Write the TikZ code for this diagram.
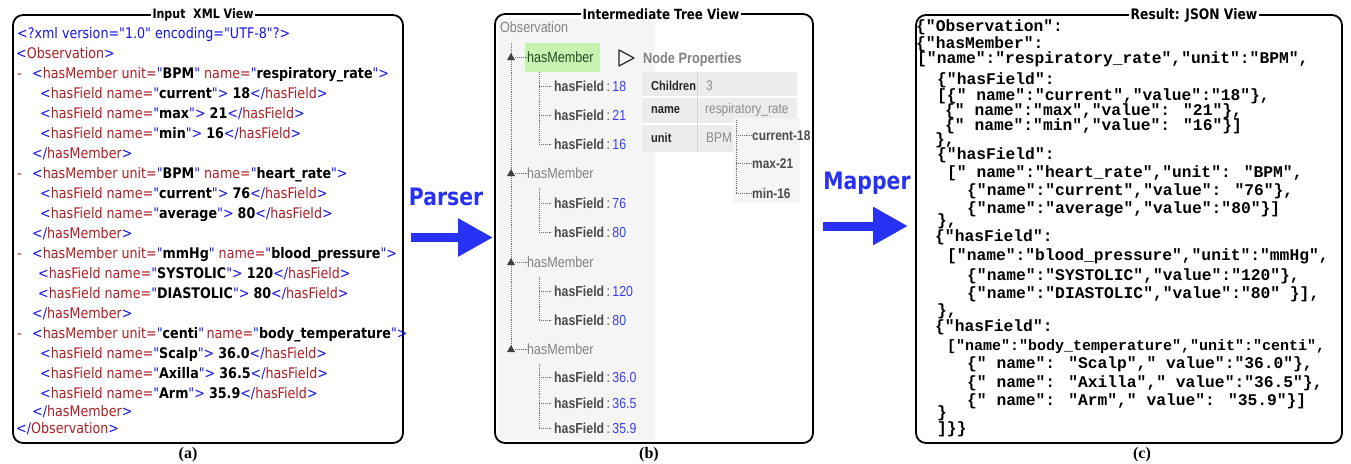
\documentclass[tikz,border=0pt]{standalone}
\usepackage{fontspec}
\usetikzlibrary{arrows.meta}
\newfontfamily\xmlfont[FakeStretch=0.87]{DejaVu Sans}
\newfontfamily\treefont[FakeStretch=0.85]{Liberation Sans}
\newfontfamily\jsonfont{Liberation Mono}
\newfontfamily\titlefont[FakeStretch=0.85]{DejaVu Sans}
\newfontfamily\capfont{Liberation Serif}

\definecolor{xmlblue}{RGB}{20,20,235}
\definecolor{xmlred}{RGB}{175,30,35}
\definecolor{arrowblue}{RGB}{40,50,245}
\definecolor{obsgray}{RGB}{130,130,130}
\definecolor{fieldgray}{RGB}{75,75,75}
\definecolor{valblue}{RGB}{60,60,250}
\definecolor{selgreen}{RGB}{200,242,175}
\definecolor{seltext}{RGB}{40,70,40}
\definecolor{panelbg}{RGB}{245,245,245}
\definecolor{propbg}{RGB}{236,236,236}
\definecolor{dotgray}{RGB}{110,110,110}

% XML syntax colouring
\newcommand\xb[1]{\textcolor{xmlblue}{#1}}
\newcommand\xr[1]{\textcolor{xmlred}{#1}}
\newcommand\xv[1]{\textbf{#1}}
\newcommand\memline[2]{\xb{<}\xr{hasMember unit=}\xb{"}\xv{#1}\xb{"} \xr{name=}\xb{"}\xv{#2}\xb{">}}
\newcommand\fldline[2]{\xb{<}\xr{hasField name=}\xb{"}\xv{#1}\xb{">} \xv{#2}\xb{</}\xr{hasField}\xb{>}}
\newcommand\memend{\xb{</}\xr{hasMember}\xb{>}}
% tree view field label
\newcommand\fld[1]{\textcolor{fieldgray}{\textbf{hasField}\,:\,}\textcolor{valblue}{#1}}

\begin{document}
\begin{tikzpicture}[x=1pt,y=-1pt,
  panel/.style={draw=black, line width=1.8pt, rounded corners=10pt},
  paneltitle/.style={fill=white, inner sep=2pt, font=\titlefont\bfseries\fontsize{13}{15}\selectfont},
  captxt/.style={inner sep=0pt, font=\capfont\bfseries\fontsize{16}{18}\selectfont},
  xml/.style={anchor=base west, inner sep=0pt, font=\xmlfont\fontsize{14.6}{17}\selectfont},
  json/.style={anchor=base west, inner sep=0pt, font=\jsonfont\bfseries\fontsize{16.3}{18}\selectfont},
  tree/.style={anchor=base west, inner sep=0pt, font=\treefont\fontsize{14.8}{16}\selectfont},
  fieldtxt/.style={tree, font=\treefont\fontsize{14.5}{16}\selectfont},
  proptxt/.style={anchor=base west, inner sep=0pt, font=\treefont\fontsize{14}{16}\selectfont},
  propkey/.style={proptxt, text=black!85, font=\treefont\bfseries\fontsize{13}{15}\selectfont},
  subtxt/.style={proptxt, text=fieldgray, font=\treefont\bfseries\fontsize{14}{16}\selectfont},
  treeline/.style={draw=dotgray, densely dotted, line width=0.9pt},
  bigarrow/.style={arrowblue, line width=9pt, -{Triangle[length=35pt,width=36pt]}},
  steplabel/.style={inner sep=0pt, text=arrowblue, font=\titlefont\bfseries\fontsize{24}{26}\selectfont}
]
\useasboundingbox[fill=white] (0,0) rectangle (1351,463);

% ---------------- (a) XML input ----------------
\draw[panel] (13,15) rectangle (403,443);
\node[paneltitle] (ta) at (203,15) {Input~ XML View};
\node[captxt] (ca) at (188,455) {(a)};

\node[xml] (x0) at (17,38) {\xb{<?xml version="1.0" encoding="UTF-8"?>}};
\node[xml] (x1) at (16,58) {\xb{<}\xr{Observation}\xb{>}};
\node[xml] (d1) at (17,78) {\xr{-}};
\node[xml] (x2) at (32,78) {\memline{BPM}{respiratory\_rate}};
\node[xml] (x3) at (40,98) {\fldline{current}{18}};
\node[xml] (x4) at (40,118) {\fldline{max}{21}};
\node[xml] (x5) at (40,138) {\fldline{min}{16}};
\node[xml] (x6) at (32,158) {\memend};
\node[xml] (d2) at (17,178) {\xr{-}};
\node[xml] (x7) at (32,178) {\memline{BPM}{heart\_rate}};
\node[xml] (x8) at (40,198) {\fldline{current}{76}};
\node[xml] (x9) at (40,218) {\fldline{average}{80}};
\node[xml] (x10) at (32,238) {\memend};
\node[xml] (d3) at (17,258) {\xr{-}};
\node[xml] (x11) at (32,258) {\memline{mmHg}{blood\_pressure}};
\node[xml] (x12) at (38,278) {\fldline{SYSTOLIC}{120}};
\node[xml] (x13) at (38,298) {\fldline{DIASTOLIC}{80}};
\node[xml] (x14) at (32,318) {\memend};
\node[xml] (d4) at (17,338) {\xr{-}};
\node[xml] (x15) at (32,338) {\xb{<}\xr{hasMember unit=}\xb{"}\xv{centi}\xb{"}\,\xr{name=}\xb{"}\xv{body\_temperature}\xb{">}};
\node[xml] (x16) at (40,358) {\fldline{Scalp}{36.0}};
\node[xml] (x17) at (40,378) {\fldline{Axilla}{36.5}};
\node[xml] (x18) at (40,398) {\fldline{Arm}{35.9}};
\node[xml] (x19) at (32,416) {\memend};
\node[xml] (x20) at (16,433) {\xb{</}\xr{Observation}\xb{>}};

% ---------------- Parser arrow ----------------
\node[steplabel] (parser) at (446,197) {Parser};
\coordinate (ps) at (411,237.5);
\coordinate (pe) at (493,237.5);
\draw[bigarrow] (ps) -- (pe);

% ---------------- (b) tree view ----------------
\fill[panelbg] (499,19) rectangle (655,440);
\draw[panel] (495,14) rectangle (813,443);
\node[paneltitle, font=\titlefont\bfseries\fontsize{14}{16}\selectfont] (tb) at (661,14) {Intermediate Tree View};
\node[captxt] (cb) at (649,455) {(b)};

\node[tree, text=obsgray] (obs) at (500,32) {Observation};
\coordinate (spine) at (511,43);
\coordinate (spineend) at (511,350);
\draw[treeline] (spine) -- (spineend);

% members
\fill[selgreen] (525,43) rectangle (600,72);
\node[tree, text=seltext] (m1) at (527,62) {hasMember};
\node[tree, text=obsgray] (m2) at (527,178) {hasMember};
\node[tree, text=obsgray] (m3) at (527,267) {hasMember};
\node[tree, text=obsgray] (m4) at (527,354) {hasMember};
\foreach \m/\yy in {m1/57,m2/173,m3/262,m4/349}{
  \fill[black!75] (507,\yy+3) -- (515,\yy+3) -- (511,\yy-4) -- cycle;
  \draw[treeline] (515,\yy) -- (\m.west |- 0,\yy);
}

% fields
\node[fieldtxt] (f11) at (554,91) {\fld{18}};
\node[fieldtxt] (f12) at (554,120) {\fld{21}};
\node[fieldtxt] (f13) at (554,149) {\fld{16}};
\node[fieldtxt] (f21) at (554,208) {\fld{76}};
\node[fieldtxt] (f22) at (554,237) {\fld{80}};
\node[fieldtxt] (f31) at (554,296) {\fld{120}};
\node[fieldtxt] (f32) at (554,325) {\fld{80}};
\node[fieldtxt] (f41) at (554,382) {\fld{36.0}};
\node[fieldtxt] (f42) at (554,408) {\fld{36.5}};
\node[fieldtxt] (f43) at (554,433) {\fld{35.9}};
\foreach \top/\bot in {72/144,188/232,277/320,364/428}{
  \draw[treeline] (539,\top) -- (539,\bot);
}
\foreach \yy in {86,115,144,203,232,291,320,377,403,428}{
  \draw[treeline] (539,\yy) -- (552,\yy);
}

% node properties
\draw[line width=1.2pt, black!85, line join=round] (619,50) -- (634,58) -- (619,66) -- cycle;
\node[tree, text=obsgray, font=\treefont\bfseries\fontsize{15}{17}\selectfont] (np) at (643,63) {Node Properties};
\fill[propbg] (642,72) rectangle (797,152);
\draw[white, line width=1.5pt] (642,97) -- (797,97);
\draw[white, line width=1.5pt] (642,124) -- (797,124);
\draw[black!18, line width=0.8pt] (697,72) -- (697,152);
\node[propkey] (pk1) at (651,90) {Children};
\node[propkey] (pk2) at (651,113) {name};
\node[propkey] (pk3) at (651,142) {unit};
\node[proptxt, text=black!45] (pv1) at (706,90) {3};
\node[proptxt, text=black!45] (pv2) at (705,113) {respiratory\_rate};
\node[proptxt, text=black!45] (pv3) at (706,142) {BPM};

% sub-tree of the selected member
\fill[panelbg] (733,118) rectangle (800,203);
\coordinate (sub) at (736,120);
\coordinate (subend) at (736,193);
\draw[treeline] (sub) -- (subend);
\node[subtxt] (s1) at (752,140) {current-18};
\node[subtxt] (s2) at (752,168) {max-21};
\node[subtxt] (s3) at (752,198) {min-16};
\foreach \s/\yy in {s1/135,s2/163,s3/193}{
  \draw[treeline] (736,\yy) -- (\s.west |- 0,\yy);
}

% ---------------- Mapper arrow ----------------
\node[steplabel] (mapper) at (867,183) {Mapper};
\coordinate (ms) at (823,226);
\coordinate (me) at (908,226);
\draw[bigarrow] (ms) -- (me);

% ---------------- (c) JSON result ----------------
\draw[panel] (916,15) rectangle (1342,443);
\node[paneltitle, font=\titlefont\bfseries\fontsize{14.5}{16}\selectfont] (tc) at (1194,15) {Result: JSON View};
\node[captxt] (cc) at (1142,455) {(c)};

\node[json] (j0) at (916,31) {\{"Observation":};
\node[json] (j1) at (916,48) {\{"hasMember":};
\node[json] (j2) at (917,63) {["name":"respiratory\_rate","unit":"BPM",};
\node[json] (j3) at (937,84) {\{"hasField":};
\node[json] (j4) at (937,100) {[\{" name":"current","value":"18"\},};
\node[json] (j5) at (945,115) {\{" name":"max","value": "21"\},};
\node[json] (j6) at (945,130) {\{" name":"min","value": "16"\}]};
\node[json] (j7) at (935,144) {\},};
\node[json] (j8) at (937,159) {\{"hasField":};
\node[json] (j9) at (947,177) {[" name":"heart\_rate","unit": "BPM",};
\node[json] (j10) at (967,195) {\{"name":"current","value": "76"\},};
\node[json] (j11) at (967,213) {\{"name":"average","value":"80"\}]};
\node[json] (j12) at (937,225) {\},};
\node[json] (j13) at (935,241) {\{"hasField":};
\node[json] (j14) at (947,260) {["name":"blood\_pressure","unit":"mmHg",};
\node[json] (j15) at (967,280) {\{"name":"SYSTOLIC","value":"120"\},};
\node[json] (j16) at (967,298) {\{"name":"DIASTOLIC","value":"80" \}],};
\node[json] (j17) at (937,315) {\},};
\node[json] (j18) at (935,331) {\{"hasField":};
\node[json, font=\jsonfont\bfseries\fontsize{15}{18}\selectfont] (j19) at (947,350) {["name":"body\_temperature","unit":"centi",};
\node[json] (j20) at (967,368) {\{" name": "Scalp"," value":"36.0"\},};
\node[json] (j21) at (967,387) {\{" name": "Axilla"," value":"36.5"\},};
\node[json] (j22) at (967,405) {\{" name": "Arm"," value": "35.9"\}]};
\node[json] (j23) at (937,417) {\}};
\node[json] (j24) at (937,433) {]\}\}};
\end{tikzpicture}
\end{document}
